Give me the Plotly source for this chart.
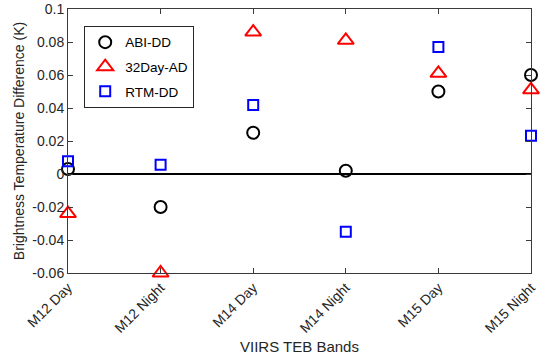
import plotly.graph_objects as go

categories = ["M12 Day", "M12 Night", "M14 Day", "M14 Night", "M15 Day", "M15 Night"]
abi_dd = [0.003, -0.020, 0.025, 0.002, 0.050, 0.060]
day32_ad = [-0.024, -0.060, 0.086, 0.081, 0.061, 0.051]
rtm_dd = [0.0077, 0.0056, 0.0418, -0.035, 0.077, 0.0232]

ytick_vals = [-0.06, -0.04, -0.02, 0, 0.02, 0.04, 0.06, 0.08, 0.1]
ytick_text = ["-0.06", "-0.04", "-0.02", "0", "0.02", "0.04", "0.06", "0.08", "0.1"]

font_family = "Liberation Sans, Arial, sans-serif"
axis_color = "#3a3a3a"
text_color = "#262626"

fig = go.Figure()
fig.add_trace(go.Scatter(
    x=categories, y=abi_dd, mode="markers", name="ABI-DD", legendgroup="a",
    marker=dict(symbol="circle-open", size=12, color="black", line=dict(width=2, color="black")),
    cliponaxis=False))
fig.add_trace(go.Scatter(
    x=categories, y=day32_ad, mode="markers", name="32Day-AD", legendgroup="b",
    marker=dict(symbol="triangle-up-open", size=14, color="red", line=dict(width=2, color="red")),
    cliponaxis=False))
fig.add_trace(go.Scatter(
    x=categories, y=rtm_dd, mode="markers", name="RTM-DD", legendgroup="c",
    marker=dict(symbol="square-open", size=10, color="blue", line=dict(width=2, color="blue")),
    cliponaxis=False))

fig.update_layout(
    width=545, height=358, autosize=False,
    margin=dict(l=68, r=14, t=9, b=85, autoexpand=False),
    paper_bgcolor="white", plot_bgcolor="white",
    font=dict(family=font_family, size=13, color=text_color),
    showlegend=True,
    legend=dict(x=0.035, y=0.936, xanchor="left", yanchor="top",
                bordercolor=text_color, borderwidth=1, bgcolor="white",
                font=dict(size=13.5, color="black"), tracegroupgap=4,
                itemsizing="trace"),
    xaxis=dict(
        type="category", categoryorder="array", categoryarray=categories,
        range=[0, 5], showgrid=False, zeroline=False, automargin=False,
        showline=True, linecolor=axis_color, linewidth=1, mirror="ticks",
        ticks="inside", ticklen=5, tickcolor=axis_color, tickangle=-45,
        tickfont=dict(size=14, color=text_color),
        title=dict(text="VIIRS TEB Bands", font=dict(size=15, color=text_color), standoff=6),
    ),
    yaxis=dict(
        range=[-0.06, 0.1], showgrid=False, automargin=False,
        zeroline=True, zerolinecolor="black", zerolinewidth=1.5,
        showline=True, linecolor=axis_color, linewidth=1, mirror="ticks",
        ticks="inside", ticklen=5, tickcolor=axis_color,
        tickvals=ytick_vals, ticktext=ytick_text,
        tickfont=dict(size=14, color=text_color),
        title=dict(text="Brightness Temperature Difference (K)", font=dict(size=14, color=text_color), standoff=4),
    ),
)

fig.write_html("out.html", config={"displayModeBar": False},
               post_script="document.body.style.margin='0';")
